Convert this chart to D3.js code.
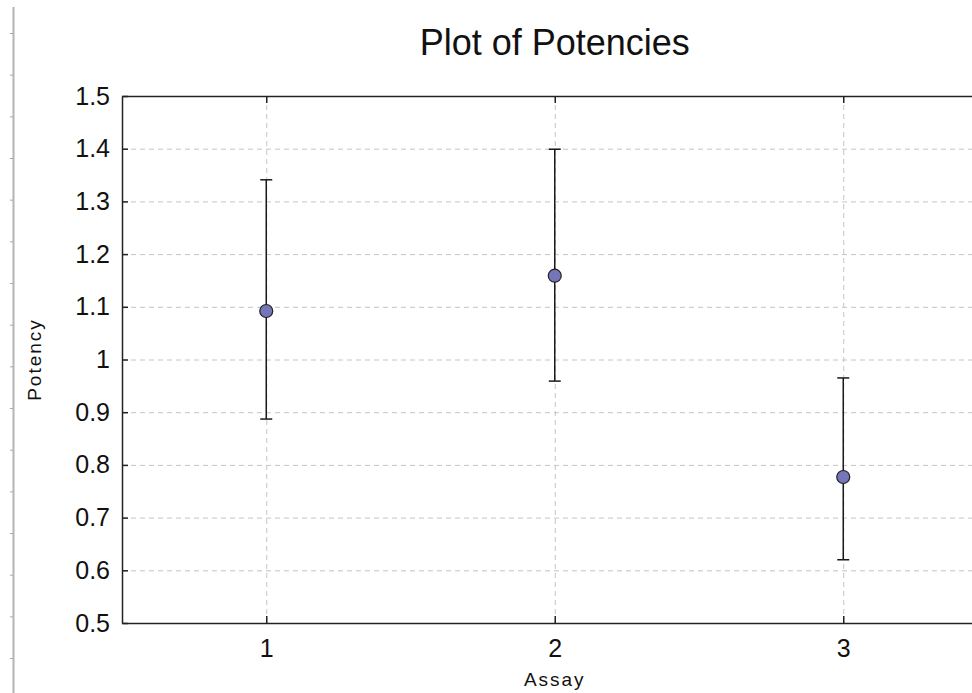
<!DOCTYPE html>
<html>
<head>
    <meta charset="utf-8">
    <style>
        body {
            margin: 0;
            background: #fff;
            font-family: 'Liberation Sans', Arial, sans-serif;
        }

        .grid line {
            stroke: #c4c4c4;
            stroke-dasharray: 5, 4;
        }

        .grid path {
            display: none;
        }

        .axis text {
            font-family: 'Liberation Sans', Arial, sans-serif;
            font-size: 25px;
            fill: #111;
        }

        .axis path,
        .axis line {
            stroke: #222;
            stroke-width: 1.5px;
        }

        .title {
            font-size: 36px;
            text-anchor: middle;
            fill: #111;
        }

        .label {
            font-size: 19px;
            letter-spacing: 2px;
            text-anchor: middle;
            fill: #111;
        }
    </style>
    <script src="https://d3js.org/d3.v7.min.js"></script>
</head>

<body>
    <script>
        ////////////// Data //////////////

        const assays = [1, 2, 3]
        const potency = [1.092, 1.159, 0.777]
        const lower = [0.887, 0.959, 0.620]
        const upper = [1.341, 1.399, 0.965]
        const y_ticks = [0.5, 0.6, 0.7, 0.8, 0.9, 1, 1.1, 1.2, 1.3, 1.4, 1.5]

        ////////////// SVG //////////////

        const W = 972, H = 693
        const margin = { top: 96, left: 122, bottom: 70 }

        const svg = d3.select("body")
            .append("svg")
            .attr("width", W)
            .attr("height", H)

        //gray ruler strip on the far left
        svg.append("line")
            .attr("x1", 13.5).attr("x2", 13.5)
            .attr("y1", 7).attr("y2", H)
            .attr("stroke", "#b4b4b4")
            .attr("stroke-width", 2)

        svg.selectAll(".ruler-tick")
            .data(d3.range(16))
            .join("line")
            .attr("class", "ruler-tick")
            .attr("x1", 10).attr("x2", 13)
            .attr("y1", d => 33.5 + d * 41.67)
            .attr("y2", d => 33.5 + d * 41.67)
            .attr("stroke", "#a8a8a8")
            .attr("stroke-width", 1)

        ////////////// Scales //////////////

        const x_scale = d3.scaleLinear()
            .domain([0.5, 3.5])
            .range([margin.left, margin.left + 3 * 288.5])

        const y_scale = d3.scaleLinear()
            .domain([0.5, 1.5])
            .range([H - margin.bottom, margin.top])

        const x0 = x_scale.range()[0], x1 = x_scale.range()[1]
        const y0 = y_scale.range()[0], y1 = y_scale.range()[1]

        ////////////// Grid //////////////

        svg.append("g")
            .attr("class", "grid")
            .attr("transform", "translate(" + x0 + ",0)")
            .call(d3.axisLeft(y_scale).tickValues(y_ticks.slice(1, -1))
                .tickSize(-(x1 - x0)).tickFormat(""))

        svg.append("g")
            .attr("class", "grid")
            .attr("transform", "translate(0," + y0 + ")")
            .call(d3.axisBottom(x_scale).tickValues(assays)
                .tickSize(-(y0 - y1)).tickFormat(""))

        ////////////// Axes //////////////

        svg.append("g")
            .attr("class", "axis y")
            .attr("transform", "translate(" + x0 + ",0)")
            .call(d3.axisLeft(y_scale)
                .tickValues(y_ticks)
                .tickSizeInner(-6)
                .tickSizeOuter(0)
                .tickPadding(12)
                .tickFormat(d3.format("")))

        svg.append("g")
            .attr("class", "axis x")
            .attr("transform", "translate(0," + y0 + ")")
            .call(d3.axisBottom(x_scale)
                .tickValues(assays)
                .tickSizeInner(-7)
                .tickSizeOuter(0)
                .tickPadding(16)
                .tickFormat(d3.format("d")))

        svg.append("g")
            .attr("class", "axis top")
            .attr("transform", "translate(0," + y1 + ")")
            .call(d3.axisTop(x_scale)
                .tickValues(assays)
                .tickSizeInner(-7)
                .tickSizeOuter(0)
                .tickFormat(""))

        ////////////// Error bars & points //////////////

        const rows = assays.map((a, i) => ({ a, p: potency[i], lo: lower[i], hi: upper[i] }))

        const bars = svg.append("g")
            .attr("stroke", "#1a1a1a")
            .attr("stroke-width", 1.5)

        bars.selectAll(".stem")
            .data(rows)
            .join("line")
            .attr("x1", d => x_scale(d.a)).attr("x2", d => x_scale(d.a))
            .attr("y1", d => y_scale(d.lo)).attr("y2", d => y_scale(d.hi))

        bars.selectAll(".cap")
            .data(rows.flatMap(d => [{ a: d.a, v: d.lo }, { a: d.a, v: d.hi }]))
            .join("line")
            .attr("x1", d => x_scale(d.a) - 6).attr("x2", d => x_scale(d.a) + 6)
            .attr("y1", d => y_scale(d.v)).attr("y2", d => y_scale(d.v))

        svg.selectAll(".pt")
            .data(rows)
            .join("circle")
            .attr("class", "pt")
            .attr("cx", d => x_scale(d.a))
            .attr("cy", d => y_scale(d.p))
            .attr("r", 6.5)
            .attr("fill", "#7575b9")
            .attr("stroke", "#222")
            .attr("stroke-width", 1.2)

        ////////////// Titles //////////////

        svg.append("text")
            .attr("class", "title")
            .attr("x", (x0 + x1) / 2)
            .attr("y", 55)
            .text("Plot of Potencies")

        svg.append("text")
            .attr("class", "label")
            .attr("x", (x0 + x1) / 2)
            .attr("y", 686)
            .text("Assay")

        svg.append("text")
            .attr("class", "label")
            .attr("transform", "translate(41," + (y0 + y1) / 2 + ") rotate(-90)")
            .text("Potency")
    </script>
</body>
</html>
